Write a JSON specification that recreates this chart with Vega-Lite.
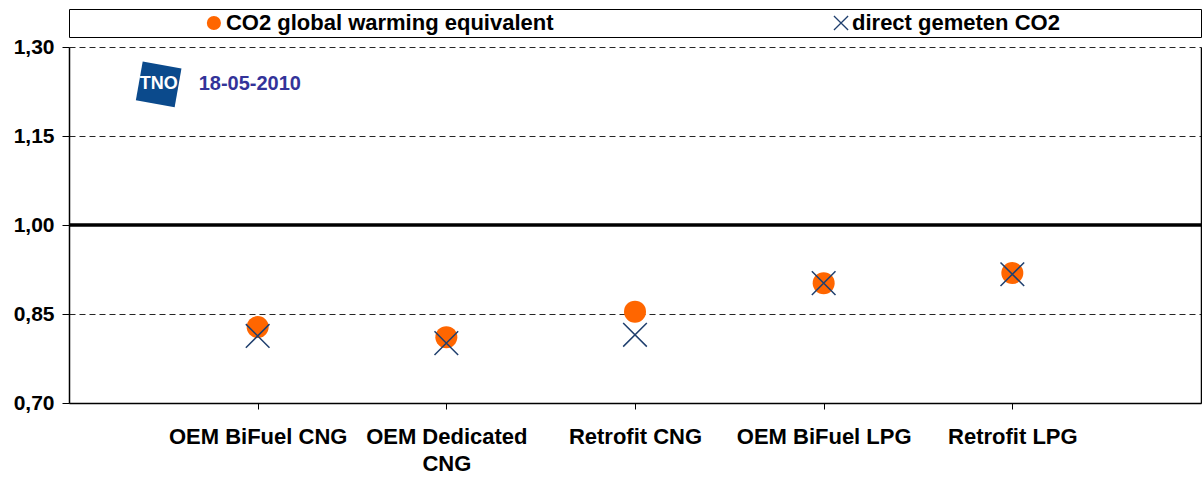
{
  "$schema": "https://vega.github.io/schema/vega-lite/v6.json",
  "padding": {"left": 13, "top": 8, "right": 0, "bottom": 0},
  "spacing": 10,
  "bounds": "flush",
  "background": "white",
  "config": {"view": {"stroke": null}, "font": "Liberation Sans"},
  "datasets": {
    "points": [
      {"category": "OEM BiFuel CNG", "series": "CO2 global warming equivalent", "value": 0.828},
      {"category": "OEM Dedicated CNG", "series": "CO2 global warming equivalent", "value": 0.811},
      {"category": "Retrofit CNG", "series": "CO2 global warming equivalent", "value": 0.854},
      {"category": "OEM BiFuel LPG", "series": "CO2 global warming equivalent", "value": 0.902},
      {"category": "Retrofit LPG", "series": "CO2 global warming equivalent", "value": 0.919},
      {"category": "OEM BiFuel CNG", "series": "direct gemeten CO2", "value": 0.813},
      {"category": "OEM Dedicated CNG", "series": "direct gemeten CO2", "value": 0.801},
      {"category": "Retrofit CNG", "series": "direct gemeten CO2", "value": 0.815},
      {"category": "OEM BiFuel LPG", "series": "direct gemeten CO2", "value": 0.902},
      {"category": "Retrofit LPG", "series": "direct gemeten CO2", "value": 0.917}
    ]
  },
  "vconcat": [
    {
      "width": 1132,
      "height": 28,
      "view": {"stroke": "#000000", "strokeWidth": 1},
      "data": {"values": [{"series": "CO2 global warming equivalent"}, {"series": "direct gemeten CO2"}]},
      "layer": [
        {
          "transform": [{"filter": "datum.series == 'CO2 global warming equivalent'"}],
          "mark": {"type": "point", "shape": "circle", "filled": true, "color": "#FF6600", "opacity": 1, "size": 200},
          "encoding": {"x": {"datum": 0.128, "type": "quantitative", "scale": {"domain": [0, 1]}, "axis": null}}
        },
        {
          "transform": [{"filter": "datum.series == 'direct gemeten CO2'"}],
          "mark": {"type": "point", "shape": "M-1,-1L1,1M1,-1L-1,1", "filled": false, "color": "#1F3F6E", "strokeWidth": 1.3, "opacity": 1, "size": 200},
          "encoding": {"x": {"datum": 0.682, "type": "quantitative", "scale": {"domain": [0, 1]}, "axis": null}}
        },
        {
          "transform": [{"filter": "datum.series == 'CO2 global warming equivalent'"}],
          "mark": {"type": "text", "align": "left", "baseline": "middle", "dx": 12, "fontSize": 22, "fontWeight": "bold", "color": "#000000"},
          "encoding": {"x": {"datum": 0.128, "type": "quantitative", "scale": {"domain": [0, 1]}, "axis": null}, "text": {"field": "series"}}
        },
        {
          "transform": [{"filter": "datum.series == 'direct gemeten CO2'"}],
          "mark": {"type": "text", "align": "left", "baseline": "middle", "dx": 11, "fontSize": 22, "fontWeight": "bold", "color": "#000000"},
          "encoding": {"x": {"datum": 0.682, "type": "quantitative", "scale": {"domain": [0, 1]}, "axis": null}, "text": {"field": "series"}}
        }
      ]
    },
    {
      "width": 1132,
      "height": 356,
      "resolve": {"axis": {"y": "independent"}},
      "layer": [
        {
          "data": {"name": "points"},
          "transform": [{"filter": "datum.series == 'CO2 global warming equivalent'"}],
          "mark": {"type": "point", "shape": "circle", "filled": true, "color": "#FF6600", "opacity": 1, "size": 484},
          "encoding": {
            "x": {
              "field": "category", "type": "nominal",
              "sort": ["OEM BiFuel CNG", "OEM Dedicated CNG", "Retrofit CNG", "OEM BiFuel LPG", "Retrofit LPG"],
              "scale": {"type": "point", "padding": 1},
              "axis": {
                "title": null, "labelAngle": 0, "labelFontSize": 22, "labelFontWeight": "bold", "labelColor": "#000000",
                "labelExpr": "datum.value == 'OEM Dedicated CNG' ? ['OEM Dedicated', 'CNG'] : datum.value",
                "labelLineHeight": 27, "labelPadding": 17, "labelBaseline": "top",
                "domainColor": "#000000", "domainWidth": 1.5, "tickColor": "#000000", "tickSize": 6, "labelLimit": 300
              }
            },
            "y": {
              "field": "value", "type": "quantitative",
              "scale": {"domain": [0.7, 1.3], "nice": false, "zero": false},
              "axis": {
                "title": null, "values": [0.7, 0.85, 1.0, 1.15, 1.3],
                "labelExpr": "replace(format(datum.value, '.2f'), '.', ',')",
                "labelFontSize": 21, "labelFontWeight": "bold", "labelColor": "#000000", "labelPadding": 8,
                "domainColor": "#000000", "domainWidth": 1.5, "tickColor": "#000000", "tickSize": 7,
                "grid": true, "gridColor": "#000000", "gridDash": [6, 4], "gridWidth": 1, "gridOpacity": 0.85
              }
            }
          }
        },
        {
          "data": {"name": "points"},
          "transform": [{"filter": "datum.series == 'direct gemeten CO2'"}],
          "mark": {"type": "point", "shape": "M-1,-1L1,1M1,-1L-1,1", "filled": false, "color": "#1F3F6E", "strokeWidth": 1.5, "opacity": 1, "size": 560},
          "encoding": {
            "x": {"field": "category", "type": "nominal", "sort": ["OEM BiFuel CNG", "OEM Dedicated CNG", "Retrofit CNG", "OEM BiFuel LPG", "Retrofit LPG"]},
            "y": {"field": "value", "type": "quantitative", "axis": null}
          }
        },
        {
          "data": {"values": [{"ref": 1.0}]},
          "mark": {"type": "rule", "color": "#000000", "strokeWidth": 3.5},
          "encoding": {
            "y": {"field": "ref", "type": "quantitative",
              "axis": {"orient": "right", "labels": false, "ticks": false, "grid": false, "title": null, "domainColor": "#000000", "domainWidth": 1.5}}
          }
        },
        {
          "data": {"values": [{"label": "TNO", "date": "18-05-2010"}]},
          "layer": [
            {
              "mark": {"type": "point", "shape": "square", "filled": true, "color": "#0B4A8C", "opacity": 1, "size": 1550, "angle": 10, "xOffset": -99},
              "encoding": {
                "x": {"datum": "OEM BiFuel CNG", "type": "nominal"},
                "y": {"datum": 1.237, "type": "quantitative", "axis": null}
              }
            },
            {
              "mark": {"type": "text", "color": "#ffffff", "fontSize": 18, "fontWeight": "bold", "dx": -99, "baseline": "middle"},
              "encoding": {
                "x": {"datum": "OEM BiFuel CNG", "type": "nominal"},
                "y": {"datum": 1.237, "type": "quantitative", "axis": null},
                "text": {"field": "label"}
              }
            },
            {
              "mark": {"type": "text", "color": "#333399", "fontSize": 20, "fontWeight": "bold", "align": "left", "dx": -59, "baseline": "middle"},
              "encoding": {
                "x": {"datum": "OEM BiFuel CNG", "type": "nominal"},
                "y": {"datum": 1.237, "type": "quantitative", "axis": null},
                "text": {"field": "date"}
              }
            }
          ]
        }
      ]
    }
  ]
}
